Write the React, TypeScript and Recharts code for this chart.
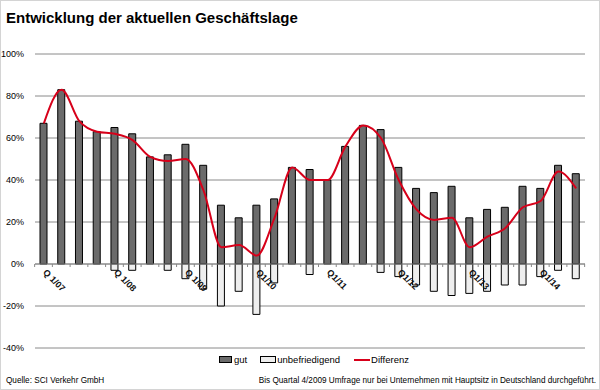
import React from 'react';
import {
  ComposedChart,
  Bar,
  Line,
  XAxis,
  YAxis,
  CartesianGrid,
  ReferenceLine,
  Legend,
  LabelList,
} from 'recharts';

const quarters = [
  'Q1/07', 'Q2/07', 'Q3/07', 'Q4/07',
  'Q1/08', 'Q2/08', 'Q3/08', 'Q4/08',
  'Q1/09', 'Q2/09', 'Q3/09', 'Q4/09',
  'Q1/10', 'Q2/10', 'Q3/10', 'Q4/10',
  'Q1/11', 'Q2/11', 'Q3/11', 'Q4/11',
  'Q1/12', 'Q2/12', 'Q3/12', 'Q4/12',
  'Q1/13', 'Q2/13', 'Q3/13', 'Q4/13',
  'Q1/14', 'Q2/14', 'Q3/14',
];

const axisLabels = [
  'Q 1/07', '', '', '',
  'Q 1/08', '', '', '',
  'Q 1/09', '', '', '',
  'Q1/10', '', '', '',
  'Q1/11', '', '', '',
  'Q1/12', '', '', '',
  'Q1/13', '', '', '',
  'Q1/14', '', '',
];

const gut = [67, 83, 68, 63, 65, 62, 51, 52, 57, 47, 28, 22, 28, 31, 46, 45, 40, 56, 66, 64, 46, 36, 34, 37, 22, 26, 27, 37, 36, 47, 43];
const unbefriedigend = [0, 0, 0, 0, -3, -3, 0, -3, -7, -12, -20, -13, -24, -9, 0, -5, 0, 0, 0, -4, -6, -10, -13, -15, -14, -13, -10, -10, -6, -3, -7];
const differenz = [67, 83, 68, 63, 62, 59, 51, 49, 50, 35, 8, 9, 4, 22, 46, 40, 40, 56, 66, 60, 40, 26, 21, 22, 8, 13, 17, 27, 30, 44, 36];

const yTicks = [-40, -20, 0, 20, 40, 60, 80, 100];

const data = quarters.map((q, i) => ({
  q,
  label: axisLabels[i],
  gut: gut[i],
  unbefriedigend: unbefriedigend[i],
  differenz: differenz[i],
}));

const FONT = '"Liberation Sans", Arial, sans-serif';
const W = 600;
const H = 390;
const MARGIN = { top: 53, right: 16, left: 4, bottom: 43 };
const Y_AXIS_W = 30;
const BAND = (W - MARGIN.left - MARGIN.right - Y_AXIS_W) / quarters.length;

const AxisLabel = (props: any) => {
  const { x, y, width, height, index } = props;
  const cx = x + width / 2;
  const y0 = y + height;
  const text = axisLabels[index];
  const tx = cx - 1;
  const ty = y0 + 9;
  return (
    <g>
      <line x1={cx + BAND / 2} x2={cx + BAND / 2} y1={y0} y2={y0 + 3} stroke="#888" strokeWidth={1} />
      {index === 0 && (
        <line x1={cx - BAND / 2} x2={cx - BAND / 2} y1={y0} y2={y0 + 3} stroke="#888" strokeWidth={1} />
      )}
      {text ? (
        <text
          x={tx}
          y={ty}
          textAnchor="start"
          fontFamily={FONT}
          fontSize={9}
          fontWeight="bold"
          fill="#111"
          transform={`rotate(45, ${tx}, ${ty})`}
        >
          {text}
        </text>
      ) : null}
    </g>
  );
};

const LegendContent = () => (
  <div
    style={{
      display: 'flex',
      justifyContent: 'center',
      alignItems: 'center',
      fontFamily: FONT,
      fontSize: 9.5,
      color: '#000',
      paddingLeft: 26,
    }}
  >
    <span style={{ display: 'inline-block', width: 11, height: 5, background: '#6b6b6b', border: '1px solid #000', marginRight: 2 }} />
    <span style={{ marginRight: 13 }}>gut</span>
    <span style={{ display: 'inline-block', width: 14, height: 5, background: '#eeeeee', border: '1px solid #000', marginRight: 1 }} />
    <span style={{ marginRight: 14 }}>unbefriedigend</span>
    <span style={{ display: 'inline-block', width: 16, height: 2, background: '#d7001a', marginRight: 1 }} />
    <span>Differenz</span>
  </div>
);

export default function App() {
  return (
    <div
      style={{
        position: 'fixed',
        left: 0,
        top: 0,
        width: W,
        height: H,
        background: '#fff',
        boxSizing: 'border-box',
        border: '1px solid #d4d4d4',
        overflow: 'hidden',
      }}
    >
      <div
        style={{
          position: 'absolute',
          left: 0,
          top: 0,
          width: W,
          height: H,
        }}
      >
        <ComposedChart
          width={W}
          height={H}
          data={data}
          margin={MARGIN}
          stackOffset="sign"
          barSize={7}
        >
          <CartesianGrid vertical={false} stroke="#8a8a8a" strokeWidth={1} />
          <XAxis dataKey="q" hide />
          <YAxis
            width={Y_AXIS_W}
            domain={[-40, 100]}
            ticks={yTicks}
            axisLine={false}
            tickLine={false}
            tickMargin={5}
            tickFormatter={(v: number) => `${v}%`}
            tick={{ fontFamily: FONT, fontSize: 9, fill: '#000' }}
            interval={0}
          />
          <ReferenceLine y={0} stroke="#8a8a8a" strokeWidth={1} />
          <Bar
            dataKey="gut"
            name="gut"
            stackId="s"
            fill="#6b6b6b"
            stroke="#000"
            strokeWidth={1}
            isAnimationActive={false}
          >
            <LabelList dataKey="label" content={AxisLabel} />
          </Bar>
          <Bar
            dataKey="unbefriedigend"
            name="unbefriedigend"
            stackId="s"
            fill="#eeeeee"
            stroke="#000"
            strokeWidth={1}
            isAnimationActive={false}
          />
          <Line
            dataKey="differenz"
            name="Differenz"
            type="monotone"
            stroke="#d7001a"
            strokeWidth={2}
            dot={false}
            activeDot={false}
            isAnimationActive={false}
          />
          <Legend
            layout="horizontal"
            verticalAlign="middle"
            align="center"
            content={LegendContent}
            wrapperStyle={{ top: 353, left: 0, width: W, height: 14 }}
          />
        </ComposedChart>
      </div>
      <div
        style={{
          position: 'absolute',
          left: 5,
          top: 8,
          fontFamily: FONT,
          fontSize: 15,
          fontWeight: 'bold',
          color: '#000',
          whiteSpace: 'nowrap',
        }}
      >
        Entwicklung der aktuellen Geschäftslage
      </div>
      <div
        style={{
          position: 'absolute',
          left: 5,
          top: 375,
          fontFamily: FONT,
          fontSize: 8.2,
          color: '#000',
          whiteSpace: 'nowrap',
        }}
      >
        Quelle: SCI Verkehr GmbH
      </div>
      <div
        style={{
          position: 'absolute',
          right: 3,
          top: 375,
          fontFamily: FONT,
          fontSize: 8.2,
          color: '#000',
          whiteSpace: 'nowrap',
        }}
      >
        Bis Quartal 4/2009 Umfrage nur bei Unternehmen mit Hauptsitz in Deutschland durchgeführt.
      </div>
    </div>
  );
}
